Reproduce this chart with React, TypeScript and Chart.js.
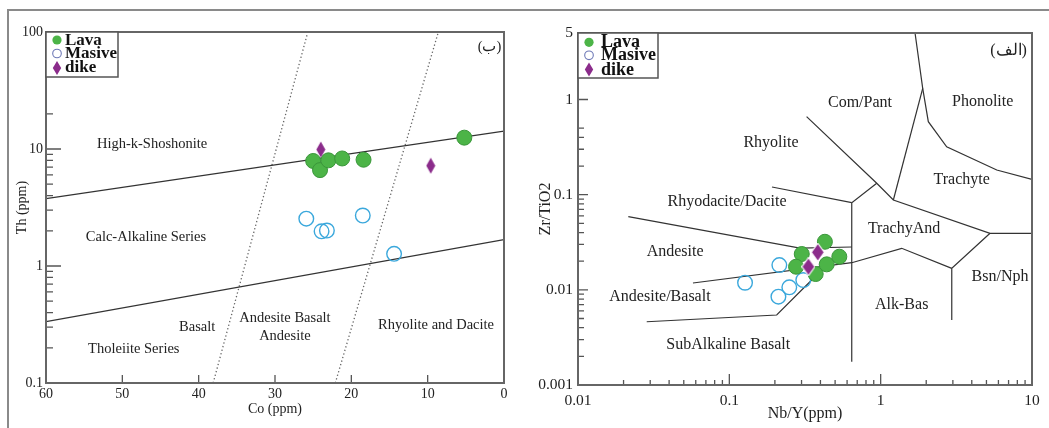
import React, { useEffect, useRef } from "react";
import { Chart, registerables } from "chart.js";

Chart.register(...registerables);

const SERIF = '"Liberation Serif", "Times New Roman", serif';

// ================= Left chart : Th (ppm) vs Co (ppm) =================
const leftLavaCo = [25.0, 24.1, 23.0, 21.2, 18.4, 5.2];
const leftLavaTh = [7.9, 6.6, 8.0, 8.3, 8.1, 12.5];
const leftMasiveCo = [25.9, 23.9, 23.2, 18.5, 14.4];
const leftMasiveTh = [2.54, 1.98, 2.01, 2.7, 1.27];
const leftDikeCo = [24.0, 9.6];
const leftDikeTh = [9.9, 7.2];

const leftXTicks = [60, 50, 40, 30, 20, 10, 0];
const leftYTicks = [0.1, 1, 10, 100];
const leftYMinor = [0.2, 0.3, 0.4, 0.5, 0.6, 0.7, 0.8, 0.9, 2, 3, 4, 5, 6, 7, 8, 9, 20];

const leftUpperLineCo = [60, 0];
const leftUpperLineTh = [3.77, 14.2];
const leftLowerLineCo = [60, 0];
const leftLowerLineTh = [0.335, 1.68];
const leftDot1Co = [38.1, 25.7];
const leftDot1Th = [0.1, 100];
const leftDot2Co = [22.1, 8.6];
const leftDot2Th = [0.1, 100];

const leftFieldNames = [
  "High-k-Shoshonite",
  "Calc-Alkaline Series",
  "Basalt",
  "Tholeiite Series",
  "Andesite Basalt",
  "Andesite",
  "Rhyolite and Dacite",
  "(ب)",
];
const leftFieldCo = [46.1, 46.9, 40.2, 48.5, 28.7, 28.7, 8.9, 1.9];
const leftFieldTh = [10.96, 1.75, 0.302, 0.1955, 0.36, 0.253, 0.314, 74];

// ================= Right chart : Zr/TiO2 vs Nb/Y =================
const rightLavaNbY = [0.428, 0.301, 0.276, 0.372, 0.44, 0.533];
const rightLavaZrTi = [0.032, 0.0238, 0.0175, 0.01466, 0.01853, 0.0223];
const rightMasiveNbY = [0.127, 0.214, 0.211, 0.249, 0.308];
const rightMasiveZrTi = [0.01188, 0.01822, 0.00847, 0.01062, 0.01268];
const rightDikeNbY = [0.384, 0.333];
const rightDikeZrTi = [0.0248, 0.0175];

const rightXTicks = [0.01, 0.1, 1, 10];
const rightYTicks = [0.001, 0.01, 0.1, 1, 5];
const rightXMinor = [
  0.02, 0.03, 0.04, 0.05, 0.06, 0.07, 0.08, 0.09,
  0.2, 0.3, 0.4, 0.5, 0.6, 0.7, 0.8, 0.9,
  2, 3, 4, 5, 6, 7, 8, 9,
];
const rightYMinor = [
  0.002, 0.003, 0.004, 0.005, 0.006, 0.007, 0.008, 0.009,
  0.02, 0.03, 0.04, 0.05, 0.06, 0.07, 0.08, 0.09,
  0.2, 0.3, 0.4, 0.5,
];

// field boundaries (Nb/Y, Zr/TiO2)
const bPhonoX = [1.687, 1.896, 2.065, 2.73, 5.85, 10];
const bPhonoY = [5, 1.312, 0.585, 0.319, 0.1815, 0.145];
const bComTraX = [1.896, 1.213];
const bComTraY = [1.312, 0.0879];
const bComPantX = [0.324, 0.942, 1.213, 5.28, 10];
const bComPantY = [0.66, 0.1318, 0.0879, 0.0393, 0.0393];
const bTrachyAndX = [0.942, 0.644, 0.644];
const bTrachyAndY = [0.1318, 0.0824, 0.00176];
const bRhyoX = [0.1914, 0.644];
const bRhyoY = [0.1205, 0.0824];
const bBsnX = [5.28, 2.95, 2.95];
const bBsnY = [0.0393, 0.01683, 0.00482];
const bAlkX = [2.95, 1.377, 0.644, 0.0575];
const bAlkY = [0.01683, 0.02732, 0.01928, 0.0118];
const bAndX = [0.0215, 0.293, 0.644];
const bAndY = [0.0587, 0.0275, 0.0282];
const bSubX = [0.02845, 0.2056, 0.4337];
const bSubY = [0.00462, 0.00544, 0.0178];

const rightFieldNames = [
  "Com/Pant",
  "Phonolite",
  "Rhyolite",
  "Rhyodacite/Dacite",
  "Trachyte",
  "TrachyAnd",
  "Andesite",
  "Andesite/Basalt",
  "SubAlkaline Basalt",
  "Alk-Bas",
  "Bsn/Nph",
  "(الف)",
];
const rightFieldX = [0.73, 4.72, 0.1885, 0.0965, 3.43, 1.427, 0.0438, 0.0348, 0.0984, 1.377, 6.15, 7.0];
const rightFieldY = [0.926, 0.948, 0.349, 0.0843, 0.145, 0.0433, 0.0252, 0.00835, 0.00263, 0.00693, 0.01374, 3.25];

const legendNames = ["Lava", "Masive", "dike"];

// ================= helpers =================
const GREEN = "#4cb447";
const GREEN_EDGE = "#3a963a";
const BLUE = "#3ba8dc";
const PURPLE = "#8b2c8b";

const pts = (xs: number[], ys: number[]) => xs.map((x, i) => ({ x, y: ys[i] }));

function boundary(xs: number[], ys: number[], dotted = false) {
  return {
    data: pts(xs, ys),
    showLine: true,
    borderColor: dotted ? "#666" : "#333",
    borderWidth: dotted ? 1.3 : 1.2,
    borderDash: dotted ? [1.3, 2.4] : [],
    pointRadius: 0,
    fill: false,
    order: 10,
  };
}

function diamond(w: number, h: number, fill: string, stroke?: string) {
  const c = document.createElement("canvas");
  c.width = w;
  c.height = h;
  const g = c.getContext("2d")!;
  g.beginPath();
  g.moveTo(w / 2, 0.5);
  g.lineTo(w - 0.5, h / 2);
  g.lineTo(w / 2, h - 0.5);
  g.lineTo(0.5, h / 2);
  g.closePath();
  g.fillStyle = fill;
  g.fill();
  if (stroke) {
    g.strokeStyle = stroke;
    g.lineWidth = 1.2;
    g.stroke();
  }
  return c;
}

type DecorCfg = {
  xMajor: number[];
  xMajorLen: number;
  xMinor: number[];
  xMinorLen: number;
  yMajor: number[];
  yMajorLen: number;
  yMinor: number[];
  yMinorLen: number;
  labels: { text: string; x: number; y: number }[];
  labelFont: string;
  legend: {
    w: number;
    h: number;
    font: string;
    markerX: number;
    textX: number;
    rows: number[];
    markerRows: number[];
  };
};

function makeDecor(cfg: DecorCfg) {
  return {
    id: "decor",
    beforeDatasetsDraw(chart: any) {
      const { ctx, scales } = chart;
      const x = scales.x;
      const y = scales.y;
      ctx.save();
      ctx.fillStyle = "#222";
      ctx.textAlign = "center";
      ctx.textBaseline = "middle";
      ctx.font = cfg.labelFont;
      for (const l of cfg.labels) {
        ctx.fillText(l.text, x.getPixelForValue(l.x), y.getPixelForValue(l.y));
      }
      ctx.restore();
    },
    afterDatasetsDraw(chart: any) {
      const { ctx, chartArea: a, scales } = chart;
      const x = scales.x;
      const y = scales.y;
      ctx.save();
      ctx.strokeStyle = "#555";
      ctx.lineWidth = 1.3;
      ctx.beginPath();
      for (const v of cfg.xMajor) {
        const p = x.getPixelForValue(v);
        ctx.moveTo(p, a.bottom);
        ctx.lineTo(p, a.bottom - cfg.xMajorLen);
      }
      for (const v of cfg.xMinor) {
        const p = x.getPixelForValue(v);
        ctx.moveTo(p, a.bottom);
        ctx.lineTo(p, a.bottom - cfg.xMinorLen);
      }
      for (const v of cfg.yMajor) {
        const p = y.getPixelForValue(v);
        ctx.moveTo(a.left, p);
        ctx.lineTo(a.left + cfg.yMajorLen, p);
      }
      for (const v of cfg.yMinor) {
        const p = y.getPixelForValue(v);
        ctx.moveTo(a.left, p);
        ctx.lineTo(a.left + cfg.yMinorLen, p);
      }
      ctx.stroke();

      // frame
      ctx.strokeStyle = "#666";
      ctx.lineWidth = 2;
      ctx.strokeRect(a.left, a.top, a.right - a.left, a.bottom - a.top);

      // legend
      const L = cfg.legend;
      const lx = a.left;
      const ly = a.top;
      ctx.fillStyle = "#fff";
      ctx.fillRect(lx, ly, L.w, L.h);
      ctx.strokeStyle = "#555";
      ctx.lineWidth = 1.5;
      ctx.strokeRect(lx, ly, L.w, L.h);
      const mx = lx + L.markerX;
      // Lava
      ctx.beginPath();
      ctx.arc(mx, ly + L.markerRows[0], 4.6, 0, Math.PI * 2);
      ctx.fillStyle = GREEN;
      ctx.fill();
      // Masive
      ctx.beginPath();
      ctx.arc(mx, ly + L.markerRows[1], 4.3, 0, Math.PI * 2);
      ctx.strokeStyle = "#6d78b6";
      ctx.lineWidth = 1.1;
      ctx.stroke();
      // dike
      const dy = ly + L.markerRows[2];
      ctx.beginPath();
      ctx.moveTo(mx, dy - 7);
      ctx.lineTo(mx + 4.2, dy);
      ctx.lineTo(mx, dy + 7);
      ctx.lineTo(mx - 4.2, dy);
      ctx.closePath();
      ctx.fillStyle = PURPLE;
      ctx.fill();
      ctx.fillStyle = "#111";
      ctx.font = L.font;
      ctx.textAlign = "left";
      ctx.textBaseline = "alphabetic";
      legendNames.forEach((n, i) => ctx.fillText(n, lx + L.textX, ly + L.rows[i]));
      ctx.restore();
    },
  };
}

function leftConfig(): any {
  const dia = diamond(10, 17, PURPLE);
  return {
    type: "scatter",
    data: {
      datasets: [
        { label: "dike", data: pts(leftDikeCo, leftDikeTh), pointStyle: dia, pointRadius: 8, order: 1 },
        {
          label: "Lava",
          data: pts(leftLavaCo, leftLavaTh),
          pointRadius: 7.5,
          backgroundColor: GREEN,
          borderColor: GREEN_EDGE,
          borderWidth: 1,
          order: 2,
        },
        {
          label: "Masive",
          data: pts(leftMasiveCo, leftMasiveTh),
          pointRadius: 7.3,
          backgroundColor: "rgba(255,255,255,0)",
          borderColor: BLUE,
          borderWidth: 1.4,
          order: 3,
        },
        boundary(leftUpperLineCo, leftUpperLineTh),
        boundary(leftLowerLineCo, leftLowerLineTh),
        boundary(leftDot1Co, leftDot1Th, true),
        boundary(leftDot2Co, leftDot2Th, true),
      ],
    },
    options: {
      responsive: false,
      animation: false,
      events: [],
      devicePixelRatio: 1,
      layout: { padding: { left: 0, top: 32, right: 16, bottom: 0 } },
      plugins: { legend: { display: false }, tooltip: { enabled: false } },
      scales: {
        x: {
          type: "linear",
          min: 0,
          max: 60,
          reverse: true,
          grid: { display: false, drawTicks: false },
          border: { display: false },
          afterBuildTicks: (s: any) => {
            s.ticks = leftXTicks.map((v) => ({ value: v }));
          },
          ticks: { font: { family: SERIF, size: 14 }, color: "#222", padding: 3, maxRotation: 0, autoSkip: false },
          title: {
            display: true,
            text: "Co (ppm)",
            font: { family: SERIF, size: 14 },
            color: "#222",
            padding: { top: 0, bottom: 10.6 },
          },
          afterFit: (s: any) => {
            s.height = 45;
          },
        },
        y: {
          type: "logarithmic",
          min: 0.1,
          max: 100,
          grid: { display: false, drawTicks: false },
          border: { display: false },
          afterBuildTicks: (s: any) => {
            s.ticks = leftYTicks.map((v) => ({ value: v }));
          },
          ticks: { font: { family: SERIF, size: 14 }, color: "#222", padding: 3, callback: (v: number) => String(v) },
          title: {
            display: true,
            text: "Th (ppm)",
            font: { family: SERIF, size: 14 },
            color: "#222",
            padding: { top: 13.6, bottom: 0 },
          },
          afterFit: (s: any) => {
            s.width = 46;
          },
        },
      },
    },
    plugins: [
      makeDecor({
        xMajor: leftXTicks.slice(1, -1),
        xMajorLen: 8,
        xMinor: [],
        xMinorLen: 0,
        yMajor: leftYTicks.slice(1, -1),
        yMajorLen: 15,
        yMinor: leftYMinor,
        yMinorLen: 7,
        labels: leftFieldNames.map((t, i) => ({ text: t, x: leftFieldCo[i], y: leftFieldTh[i] })),
        labelFont: `14.5px ${SERIF}`,
        legend: {
          w: 72,
          h: 45,
          font: `bold 17px ${SERIF}`,
          markerX: 11,
          textX: 19,
          rows: [13, 26, 40],
          markerRows: [8, 21.5, 36],
        },
      }),
    ],
  };
}

function rightConfig(): any {
  const dia = diamond(14, 19, PURPLE, "#ffffff");
  return {
    type: "scatter",
    data: {
      datasets: [
        { label: "dike", data: pts(rightDikeNbY, rightDikeZrTi), pointStyle: dia, pointRadius: 9, order: 1 },
        {
          label: "Lava",
          data: pts(rightLavaNbY, rightLavaZrTi),
          pointRadius: 7.5,
          backgroundColor: GREEN,
          borderColor: GREEN_EDGE,
          borderWidth: 1,
          order: 2,
        },
        {
          label: "Masive",
          data: pts(rightMasiveNbY, rightMasiveZrTi),
          pointRadius: 7.3,
          backgroundColor: "rgba(255,255,255,0)",
          borderColor: BLUE,
          borderWidth: 1.4,
          order: 3,
        },
        boundary(bPhonoX, bPhonoY),
        boundary(bComTraX, bComTraY),
        boundary(bComPantX, bComPantY),
        boundary(bTrachyAndX, bTrachyAndY),
        boundary(bRhyoX, bRhyoY),
        boundary(bBsnX, bBsnY),
        boundary(bAlkX, bAlkY),
        boundary(bAndX, bAndY),
        boundary(bSubX, bSubY),
      ],
    },
    options: {
      responsive: false,
      animation: false,
      events: [],
      devicePixelRatio: 1,
      layout: { padding: { left: 0, top: 33, right: 17, bottom: 0 } },
      plugins: { legend: { display: false }, tooltip: { enabled: false } },
      scales: {
        x: {
          type: "logarithmic",
          min: 0.01,
          max: 10,
          grid: { display: false, drawTicks: false },
          border: { display: false },
          afterBuildTicks: (s: any) => {
            s.ticks = rightXTicks.map((v) => ({ value: v }));
          },
          ticks: {
            font: { family: SERIF, size: 15.5 },
            color: "#222",
            padding: 7,
            maxRotation: 0,
            autoSkip: false,
            callback: (v: number) => String(v),
          },
          title: {
            display: true,
            text: "Nb/Y(ppm)",
            font: { family: SERIF, size: 16 },
            color: "#222",
            padding: { top: 0, bottom: 5 },
          },
          afterFit: (s: any) => {
            s.height = 43;
          },
        },
        y: {
          type: "logarithmic",
          min: 0.001,
          max: 5,
          grid: { display: false, drawTicks: false },
          border: { display: false },
          afterBuildTicks: (s: any) => {
            s.ticks = rightYTicks.map((v) => ({ value: v }));
          },
          ticks: {
            font: { family: SERIF, size: 15.5 },
            color: "#222",
            padding: 5,
            callback: (v: number) => String(v),
          },
          title: {
            display: true,
            text: "Zr/TiO2",
            font: { family: SERIF, size: 16 },
            color: "#222",
            padding: { top: 16, bottom: 0 },
          },
          afterFit: (s: any) => {
            s.width = 58;
          },
        },
      },
    },
    plugins: [
      makeDecor({
        xMajor: [0.1, 1],
        xMajorLen: 11,
        xMinor: rightXMinor,
        xMinorLen: 5,
        yMajor: [0.01, 0.1, 1],
        yMajorLen: 10,
        yMinor: rightYMinor,
        yMinorLen: 6,
        labels: rightFieldNames.map((t, i) => ({ text: t, x: rightFieldX[i], y: rightFieldY[i] })),
        labelFont: `16px ${SERIF}`,
        legend: {
          w: 80,
          h: 45,
          font: `bold 18px ${SERIF}`,
          markerX: 11,
          textX: 23,
          rows: [13.7, 27, 42],
          markerRows: [9.3, 22.3, 36.5],
        },
      }),
    ],
  };
}

function ChartCanvas({ make, left, width }: { make: () => any; left: number; width: number }) {
  const ref = useRef<HTMLCanvasElement>(null);
  useEffect(() => {
    const chart = new Chart(ref.current as HTMLCanvasElement, make());
    return () => chart.destroy();
  }, []);
  return (
    <canvas
      ref={ref}
      width={width}
      height={428}
      style={{ position: "absolute", left, top: 0, width, height: 428 }}
    />
  );
}

export default function App() {
  return (
    <div style={{ position: "absolute", left: 0, top: 0, width: 1049, height: 428, background: "#fff", overflow: "hidden" }}>
      <div
        style={{
          position: "absolute",
          left: 7,
          top: 9,
          width: 1100,
          height: 500,
          borderTop: "2px solid #8a8a8a",
          borderLeft: "2px solid #8a8a8a",
        }}
      />
      <ChartCanvas make={leftConfig} left={0} width={520} />
      <ChartCanvas make={rightConfig} left={520} width={529} />
    </div>
  );
}
